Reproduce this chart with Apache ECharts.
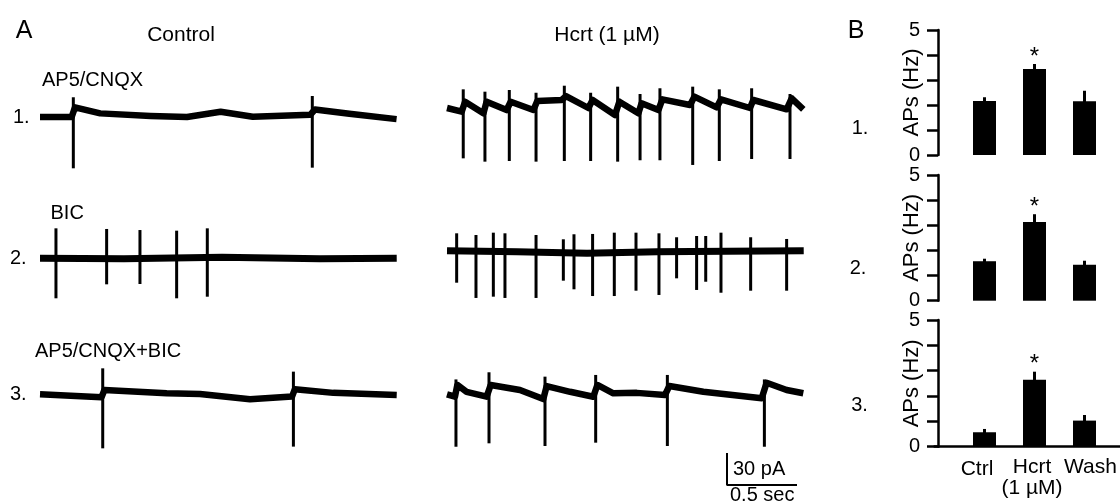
<!DOCTYPE html>
<html>
<head>
<meta charset="utf-8">
<script src="https://cdn.jsdelivr.net/npm/echarts@6/dist/echarts.min.js"></script>
<style>html,body{margin:0;padding:0;background:#fff}#c{width:1120px;height:504px}</style>
</head>
<body>
<div id="c"></div>
<script>
// ---------- Panel A: traces (time in s, current in pA relative to baseline) ----------
const ctl1Base = [[0,0],[0.226,0],[0.25,9],[0.43,3.4],[0.79,1],[1.05,0],[1.29,5],[1.52,0.3],[1.93,2],[1.964,7],[2.21,3],[2.547,-2]];
const ctl1Spikes = [[0.238,18.5,-48.1],[1.945,19.7,-47.5]];

const hcrt1Base = [[0,0],[0.105,-3.4],[0.129,5.9],[0.26,-5],[0.283,5.9],[0.426,-1.9],[0.455,5.9],[0.617,-1.9],[0.645,6.6],[0.819,7.5],[0.85,11.2],[1.01,0],[1.04,7.5],[1.2,-6.6],[1.231,5.9],[1.367,-5],[1.39,4.4],[1.51,-1.9],[1.538,8.1],[1.736,2.8],[1.767,10.6],[1.926,0.6],[1.957,8.1],[2.164,0],[2.188,7.5],[2.426,-1.2],[2.462,9.1],[2.545,-1.2]];
const hcrt1Spikes = [[0.116,17.5,-47.2],[0.271,15.3,-50.3],[0.445,16.9,-49.7],[0.636,14.3,-50.3],[0.838,20.9,-49.7],[1.026,14.3,-49.7],[1.219,20,-50.3],[1.379,13.1,-49],[1.521,18.5,-49],[1.755,20,-53.4],[1.945,17.5,-49.7],[2.176,18.5,-47.8],[2.45,13.1,-47.8]];

const ctl2Base = [[0,0],[0.6,-0.5],[1.3,1],[2.0,-0.5],[2.548,0]];
const ctl2Spikes = [[0.114,28.1,-37.5],[0.476,27.5,-24.4],[0.714,26.5,-24.1],[0.976,25.9,-37.5],[1.195,28.1,-36]];

const hcrt2Base = [[0,0],[0.5,-1],[1.0,-2.5],[1.5,-1],[2.0,-0.5],[2.548,0]];
const hcrt2Spikes = [[0.069,16.3,-30],[0.207,14.7,-44.3],[0.331,16.9,-43.1],[0.414,16.3,-44.3],[0.636,14.7,-44.3],[0.831,10.7,-28.1],[0.907,15.4,-36.2],[1.04,15.7,-42.5],[1.195,16.9,-42.5],[1.35,16.9,-37.5],[1.514,16.3,-41.5],[1.64,12.6,-25.9],[1.783,13.8,-36.8],[1.848,13.8,-29.1],[1.957,16.9,-39.4],[2.169,12.6,-37.5],[2.426,11,-37.5]];

const ctl3Base = [[0,0.6],[0.44,-2],[0.46,4.7],[0.905,1.6],[1.143,1],[1.5,-4],[1.80,-1.5],[1.82,5.3],[2.095,2],[2.548,0]];
const ctl3Spikes = [[0.448,25,-50],[1.81,21.9,-48.4]];

const hcrt3Base = [[0,0.6],[0.057,-1.6],[0.074,9.4],[0.14,3],[0.283,-1.6],[0.312,9.4],[0.521,4.7],[0.688,-3.8],[0.712,8.4],[0.879,3],[1.045,-1.6],[1.074,9.4],[1.188,1.6],[1.355,2],[1.557,0],[1.588,8.4],[1.831,3],[2.248,-3],[2.283,11.5],[2.426,4.7],[2.545,1.6]];
const hcrt3Spikes = [[0.064,14.6,-48.5],[0.3,21.3,-45.3],[0.7,17.2,-47.8],[1.062,18.8,-44.7],[1.574,18.8,-47.8],[2.267,14.6,-48.5]];

const scaleBarStart = 2.0;   // s
const scaleBarSec = 0.5;     // s
const scaleBarPA = 30;       // pA

// ---------- Panel B: bar charts ----------
const barCats = ['Ctrl', 'Hcrt\n(1 µM)', 'Wash'];
const bar1Mean = [2.16, 3.44, 2.15];
const bar1Err  = [0.15, 0.20, 0.42];
const bar2Mean = [1.57, 3.13, 1.43];
const bar2Err  = [0.10, 0.31, 0.16];
const bar3Mean = [0.57, 2.64, 1.03];
const bar3Err  = [0.13, 0.32, 0.22];
const barSig   = [false, true, false];
const yTicksShown = [0, 5];

const FONT = '"Liberation Sans", Arial, Helvetica, sans-serif';

const chart = echarts.init(document.getElementById('c'), null, {renderer: 'canvas'});

const traceGrids = [
  {left: 40,  top: 85,    width: 357, height: 96},
  {left: 447, top: 76,    width: 357, height: 96},
  {left: 40,  top: 226.3, width: 357, height: 96},
  {left: 447, top: 218.7, width: 357, height: 96},
  {left: 40,  top: 363,   width: 357, height: 96},
  {left: 447, top: 363,   width: 357, height: 96}
];
const scaleGrid = {left: 447, top: 453, width: 357, height: 32};
const barGrids = [
  {left: 934.5, top: 30,  width: 185.5, height: 125},
  {left: 934.5, top: 175, width: 185.5, height: 125.7},
  {left: 934.5, top: 320, width: 185.5, height: 126.7}
];

const grids = [], xAxes = [], yAxes = [], series = [];

const traces = [
  [ctl1Base, ctl1Spikes, 6.5], [hcrt1Base, hcrt1Spikes, 6.5],
  [ctl2Base, ctl2Spikes, 7],   [hcrt2Base, hcrt2Spikes, 7],
  [ctl3Base, ctl3Spikes, 6.5], [hcrt3Base, hcrt3Spikes, 6.5]
];

traces.forEach((tr, i) => {
  grids.push(traceGrids[i]);
  xAxes.push({gridIndex: i, type: 'value', min: 0, max: 2.55, show: false});
  yAxes.push({gridIndex: i, type: 'value', min: -60, max: 30, show: false});
  series.push({
    type: 'line', xAxisIndex: i, yAxisIndex: i, data: tr[0], showSymbol: false, symbol: 'none',
    lineStyle: {color: '#000', width: tr[2], join: 'round', cap: 'butt'}, silent: true, animation: false
  });
  series.push({
    type: 'custom', xAxisIndex: i, yAxisIndex: i, data: tr[1], clip: false, silent: true, animation: false,
    encode: {x: 0, y: [1, 2]},
    renderItem: (params, api) => {
      const p1 = api.coord([api.value(0), api.value(1)]);
      const p2 = api.coord([api.value(0), api.value(2)]);
      return {type: 'line', shape: {x1: p1[0], y1: p1[1], x2: p2[0], y2: p2[1]},
              style: {stroke: '#000', lineWidth: 3}};
    }
  });
});

// scale bar grid
const sgi = grids.length;
grids.push(scaleGrid);
xAxes.push({gridIndex: sgi, type: 'value', min: 0, max: 2.55, show: false});
yAxes.push({gridIndex: sgi, type: 'value', min: 0, max: scaleBarPA, show: false});
series.push({
  type: 'line', xAxisIndex: sgi, yAxisIndex: sgi, showSymbol: false, symbol: 'none', animation: false, silent: true,
  data: [[scaleBarStart, scaleBarPA], [scaleBarStart, 0], [scaleBarStart + scaleBarSec, 0]],
  lineStyle: {color: '#000', width: 2}
});

// bar charts: x in category-index units (50 px per unit)
const barXMin = -1;
const barXMax = 2.71;
const catRich = ['c0', 'c1', 'c2'];
const barSets = [[bar1Mean, bar1Err], [bar2Mean, bar2Err], [bar3Mean, bar3Err]];
barSets.forEach((bs, k) => {
  const gi = grids.length;
  grids.push(barGrids[k]);
  const last = k === 2;
  xAxes.push({
    gridIndex: gi, type: 'value', min: barXMin, max: barXMax, interval: 1,
    axisLine: {show: last, onZero: false, lineStyle: {color: '#000', width: 2.5}},
    axisTick: {show: false}, splitLine: {show: false},
    axisLabel: {show: last, margin: 10, color: '#000', fontFamily: FONT, fontSize: 21, lineHeight: 21,
                showMinLabel: false, showMaxLabel: false,
                formatter: v => {
                  const r = Math.round(v);
                  if (Math.abs(v - r) > 1e-6 || barCats[r] === undefined) return '';
                  return barCats[r].split('\n').map(s => '{' + catRich[r] + '|' + s + '}').join('\n');
                },
                rich: {
                  c0: {fontFamily: FONT, fontSize: 21, lineHeight: 21, padding: [4, 15, 0, 0]},
                  c1: {fontFamily: FONT, fontSize: 21, lineHeight: 21, padding: [0, 5, 0, 0]},
                  c2: {fontFamily: FONT, fontSize: 21, lineHeight: 21, padding: [0, 0, 0, 12]}
                }}
  });
  yAxes.push({
    gridIndex: gi, type: 'value', min: 0, max: 5, interval: 1, offset: -3.5,
    axisLine: {show: true, onZero: false, lineStyle: {color: '#000', width: 2.5}},
    axisTick: {show: true, length: 11, lineStyle: {color: '#000', width: 2.5}},
    splitLine: {show: false},
    axisLabel: {margin: 18, color: '#000', fontFamily: FONT, fontSize: 20,
                formatter: v => (yTicksShown.includes(v) ? String(v) : '')},
    name: 'APs (Hz)', nameLocation: 'middle', nameRotate: 90, nameGap: 15, nameMoveOverlap: false,
    nameTextStyle: {color: '#000', fontFamily: FONT, fontSize: 22}
  });
  series.push({
    type: 'bar', xAxisIndex: gi, yAxisIndex: gi, barWidth: 23, animation: false, silent: true,
    itemStyle: {color: '#000'},
    data: bs[0].map((m, i) => [i, m])
  });
  series.push({
    type: 'custom', xAxisIndex: gi, yAxisIndex: gi, clip: false, animation: false, silent: true,
    data: bs[0].map((m, i) => [i, m, m + bs[1][i], barSig[i] ? 1 : 0]),
    encode: {x: 0, y: [1, 2]},
    renderItem: (params, api) => {
      const p1 = api.coord([api.value(0), api.value(1)]);
      const p2 = api.coord([api.value(0), api.value(2)]);
      const children = [{type: 'line', shape: {x1: p1[0], y1: p1[1] + 1, x2: p2[0], y2: p2[1]},
                         style: {stroke: '#000', lineWidth: 3}}];
      if (api.value(3) === 1) {
        children.push({type: 'text', x: p2[0], y: p2[1] - 7,
          style: {text: '*', fill: '#000', font: '24px ' + FONT, align: 'center', verticalAlign: 'middle'}});
      }
      return {type: 'group', children};
    }
  });
});

function txt(text, x, y, size, align) {
  return {type: 'text', x, y, silent: true,
          style: {text, fill: '#000', font: size + 'px ' + FONT, align: align || 'left', verticalAlign: 'middle'}};
}

const graphics = [
  txt('A', 24, 31, 25, 'center'),
  txt('Control', 181, 35, 21, 'center'),
  txt('Hcrt (1 µM)', 607, 35, 21, 'center'),
  txt('AP5/CNQX', 42, 80, 20),
  txt('BIC', 50.5, 213, 20),
  txt('AP5/CNQX+BIC', 35, 351, 20),
  txt('1.', 13, 117, 20),
  txt('2.', 10, 258.5, 20),
  txt('3.', 10, 394, 20),
  txt('30 pA', 733, 469, 20),
  txt('0.5 sec', 730, 495, 20),
  txt('B', 856, 31, 25, 'center'),
  txt('1.', 860, 128, 20, 'center'),
  txt('2.', 858, 268, 20, 'center'),
  txt('3.', 859.5, 405, 20, 'center')
];

chart.setOption({
  animation: false,
  backgroundColor: '#fff',
  grid: grids,
  xAxis: xAxes,
  yAxis: yAxes,
  series,
  graphic: graphics
});
</script>
</body>
</html>
